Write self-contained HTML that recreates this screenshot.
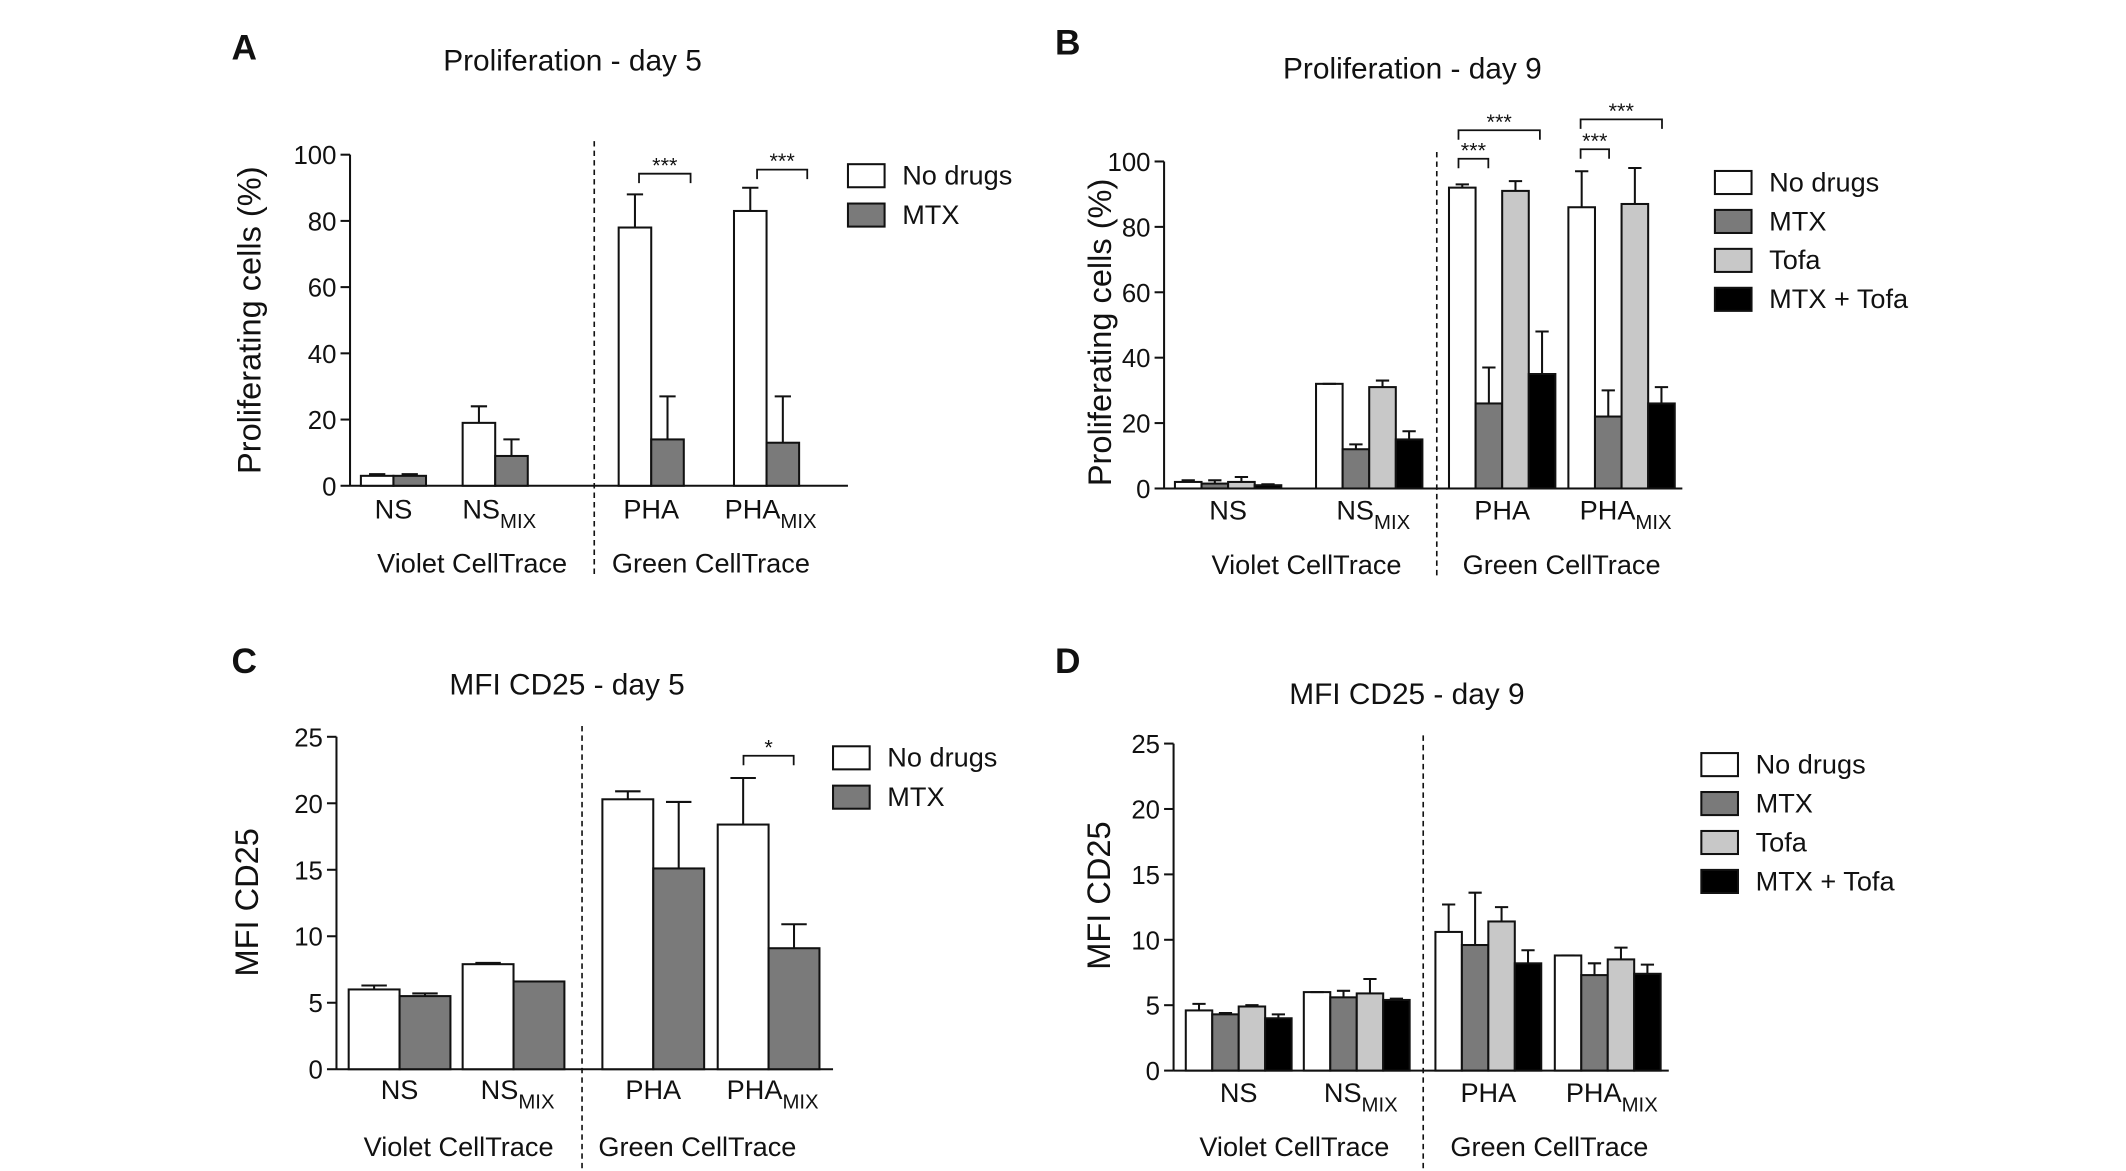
<!DOCTYPE html>
<html><head><meta charset="utf-8"><style>
html,body{margin:0;padding:0;background:#fff}
svg{display:block}
text{font-family:"Liberation Sans",sans-serif;fill:#111}
</style></head><body>
<svg id="fig" xmlns="http://www.w3.org/2000/svg" width="2126" height="1171" viewBox="0 0 1567 863" preserveAspectRatio="none"></svg>
<script>
// Panel A data
const catsA = ["NS","NS","PHA","PHA"];
const noDrugsA = [3, 19, 78, 83];
const mtxA = [3, 9, 14, 13];
const noDrugsErrA = [3.5, 24, 88, 90];
const mtxErrA = [3.5, 14, 27, 27];
// Panel B data
const noDrugsB = [2, 32, 92, 86];
const mtxB = [1.5, 12, 26, 22];
const tofaB = [2, 31, 91, 87];
const comboB = [1, 15, 35, 26];
const noDrugsErrB = [2.5, 32, 93, 97];
const mtxErrB = [2.5, 13.5, 37, 30];
const tofaErrB = [3.5, 33, 94, 98];
const comboErrB = [1.3, 17.5, 48, 31];
// Panel C data
const noDrugsC = [6.0, 7.9, 20.3, 18.4];
const mtxC = [5.5, 6.6, 15.1, 9.1];
const noDrugsErrC = [6.3, 8.0, 20.9, 21.9];
const mtxErrC = [5.7, 6.6, 20.1, 10.9];
// Panel D data
const noDrugsD = [4.6, 6.0, 10.6, 8.8];
const mtxD = [4.3, 5.6, 9.6, 7.3];
const tofaD = [4.9, 5.9, 11.4, 8.5];
const comboD = [4.0, 5.4, 8.2, 7.4];
const noDrugsErrD = [5.1, 6.0, 12.7, 8.8];
const mtxErrD = [4.4, 6.1, 13.6, 8.2];
const tofaErrD = [5.0, 7.0, 12.5, 9.4];
const comboErrD = [4.3, 5.5, 9.2, 8.1];
const ticksPct = [0,20,40,60,80,100];
const ticksMfi = [0,5,10,15,20,25];
const subs = ["","MIX","","MIX"];

const NS="http://www.w3.org/2000/svg";
const svg=document.getElementById('fig');
function el(tag,attrs,parent){const e=document.createElementNS(NS,tag);for(const k in attrs)e.setAttribute(k,attrs[k]);(parent||svg).appendChild(e);return e;}
function txt(x,y,s,size,parent,anchor,extra){const t=el('text',Object.assign({x:x,y:y,'font-size':size,'text-anchor':anchor||'middle'},extra||{}),parent);t.textContent=s;return t;}

function panel(cfg){
  const g=el('g',{});
  
  
  const y=v=>cfg.y0-(v-0)/cfg.ymax*(cfg.y0-cfg.ytop);
  const L=txt(cfg.letterX,cfg.letterY,cfg.letter,26,g,'middle',{'font-family':'Liberation Serif,serif','font-weight':'bold'});
  
  const T=txt(cfg.titleX,cfg.titleY,cfg.title,22,g);
  
  const ax=el('line',{x1:cfg.ax,y1:cfg.y0,x2:cfg.ax,y2:cfg.ytop,stroke:'#111','stroke-width':1.5},g);
  
  cfg.ticks.forEach(t=>{
    el('line',{x1:cfg.ax-7,y1:y(t),x2:cfg.ax,y2:y(t),stroke:'#111','stroke-width':1.5},g);
    const tl=txt(cfg.ax-10,y(t)+7,String(t),19,g,'end');
    
  });
  const xa=el('line',{x1:cfg.ax,y1:cfg.y0,x2:cfg.axEnd,y2:cfg.y0,stroke:'#111','stroke-width':1.5},g);
  
  const yl=txt(0,0,cfg.ylabel,24,g,'middle',{transform:`translate(${cfg.ylabelX},${cfg.ylabelY}) rotate(-90)`});
  
  const d=el('line',{x1:cfg.dashX,y1:cfg.dashTop,x2:cfg.dashX,y2:cfg.dashBot,stroke:'#111','stroke-width':1.2,'stroke-dasharray':'4,3'},g);
  
  cfg.series.forEach((s,si)=>{
    s.vals.forEach((v,ci)=>{
      const x0=cfg.groupX[ci]+si*cfg.bw;
      const r=el('rect',{x:x0,y:y(v),width:cfg.bw,height:cfg.y0-y(v),fill:s.color,stroke:'#111','stroke-width':1.5},g);
      
      
      const cx=x0+cfg.bw/2, e=s.err[ci];
      const eb=el('path',{d:`M${cx},${y(v)}V${y(e)}M${cx-cfg.bw/4},${y(e)}H${cx+cfg.bw/4}`,stroke:'#111','stroke-width':1.5,fill:'none'},g);
      
    });
  });
  cfg.groupX.forEach((gx,ci)=>{
    const cx=gx+cfg.bw*cfg.series.length/2;
    const t=el('text',{x:cx+(subs[ci]?3:0),y:cfg.catY,'font-size':20,'text-anchor':'middle'},g);
    
    t.appendChild(document.createTextNode(catsA[ci]));
    if(subs[ci]){const ts=el('tspan',{dy:7,'font-size':15},t);ts.textContent=subs[ci];}
  });
  const v1=txt(cfg.violetX,cfg.groupY,'Violet CellTrace',20,g);
  const g1=txt(cfg.greenX,cfg.groupY,'Green CellTrace',20,g);
  cfg.series.forEach((s,si)=>{
    const ly=cfg.legY+si*cfg.legStep;
    const lg=el('g',{},g);
    
    el('rect',{x:cfg.legX,y:ly,width:27,height:17,fill:s.color,stroke:'#111','stroke-width':1.5},lg);
    txt(cfg.legX+40,ly+15,s.label,20,lg,'start');
  });
  (cfg.sig||[]).forEach(b=>{
    const bg=el('g',{},g);
    
    el('path',{d:`M${b[0]},${b[2]+7}V${b[2]}H${b[1]}V${b[2]+7}`,stroke:'#111','stroke-width':1.3,fill:'none'},bg);
    txt((b[0]+b[1])/2,b[2]-1,b[3],16,bg);
  });
}
const W='#ffffff',M='#7a7a7a',Tf='#c8c8c8',K='#000000';
panel({name:'panel-a',letter:'A',letterX:180,letterY:44,title:'Proliferation - day 5',titleX:422,titleY:52,
 ax:258,axEnd:625,y0:358,ytop:114,ymax:100,ticks:ticksPct,ylabel:'Proliferating cells (%)',ylabelX:192,ylabelY:236,
 dashX:438,dashTop:104,dashBot:425,bw:24,groupX:[266,341,456,541],catY:382,groupY:422,violetX:348,greenX:524,
 legX:625,legY:121,legStep:29,
 series:[{key:'no-drugs',label:'No drugs',color:W,vals:noDrugsA,err:noDrugsErrA},{key:'mtx',label:'MTX',color:M,vals:mtxA,err:mtxErrA}],
 sig:[[471,509,128,'***'],[558,595,125,'***']]});
panel({name:'panel-b',letter:'B',letterX:787,letterY:40,title:'Proliferation - day 9',titleX:1041,titleY:58,
 ax:858,axEnd:1240,y0:360,ytop:119,ymax:100,ticks:ticksPct,ylabel:'Proliferating cells (%)',ylabelX:819,ylabelY:245,
 dashX:1059,dashTop:112,dashBot:424,bw:19.6,groupX:[866,970,1068,1156],catY:383,groupY:423,violetX:963,greenX:1151,
 legX:1264,legY:126,legStep:28.7,
 series:[{key:'no-drugs',label:'No drugs',color:W,vals:noDrugsB,err:noDrugsErrB},{key:'mtx',label:'MTX',color:M,vals:mtxB,err:mtxErrB},
 {key:'tofa',label:'Tofa',color:Tf,vals:tofaB,err:tofaErrB},{key:'mtx-tofa',label:'MTX + Tofa',color:K,vals:comboB,err:comboErrB}],
 sig:[[1075,1097,117,'***'],[1075,1135,96,'***'],[1165,1186,110,'***'],[1165,1225,88,'***']]});
panel({name:'panel-c',letter:'C',letterX:180,letterY:496,title:'MFI CD25 - day 5',titleX:418,titleY:512,
 ax:248,axEnd:614,y0:788,ytop:543,ymax:25,ticks:ticksMfi,ylabel:'MFI CD25',ylabelX:190,ylabelY:665,
 dashX:429,dashTop:535,dashBot:863,bw:37.5,groupX:[257,341,444,529],catY:810,groupY:852,violetX:338,greenX:514,
 legX:614,legY:550,legStep:29,
 series:[{key:'no-drugs',label:'No drugs',color:W,vals:noDrugsC,err:noDrugsErrC},{key:'mtx',label:'MTX',color:M,vals:mtxC,err:mtxErrC}],
 sig:[[548,585,557,'*']]});
panel({name:'panel-d',letter:'D',letterX:787,letterY:496,title:'MFI CD25 - day 9',titleX:1037,titleY:519,
 ax:865,axEnd:1230,y0:789,ytop:548,ymax:25,ticks:ticksMfi,ylabel:'MFI CD25',ylabelX:818,ylabelY:660,
 dashX:1049,dashTop:542,dashBot:863,bw:19.5,groupX:[874,961,1058,1146],catY:812,groupY:852,violetX:954,greenX:1142,
 legX:1254,legY:555,legStep:28.7,
 series:[{key:'no-drugs',label:'No drugs',color:W,vals:noDrugsD,err:noDrugsErrD},{key:'mtx',label:'MTX',color:M,vals:mtxD,err:mtxErrD},
 {key:'tofa',label:'Tofa',color:Tf,vals:tofaD,err:tofaErrD},{key:'mtx-tofa',label:'MTX + Tofa',color:K,vals:comboD,err:comboErrD}]});
</script>
</body></html>
